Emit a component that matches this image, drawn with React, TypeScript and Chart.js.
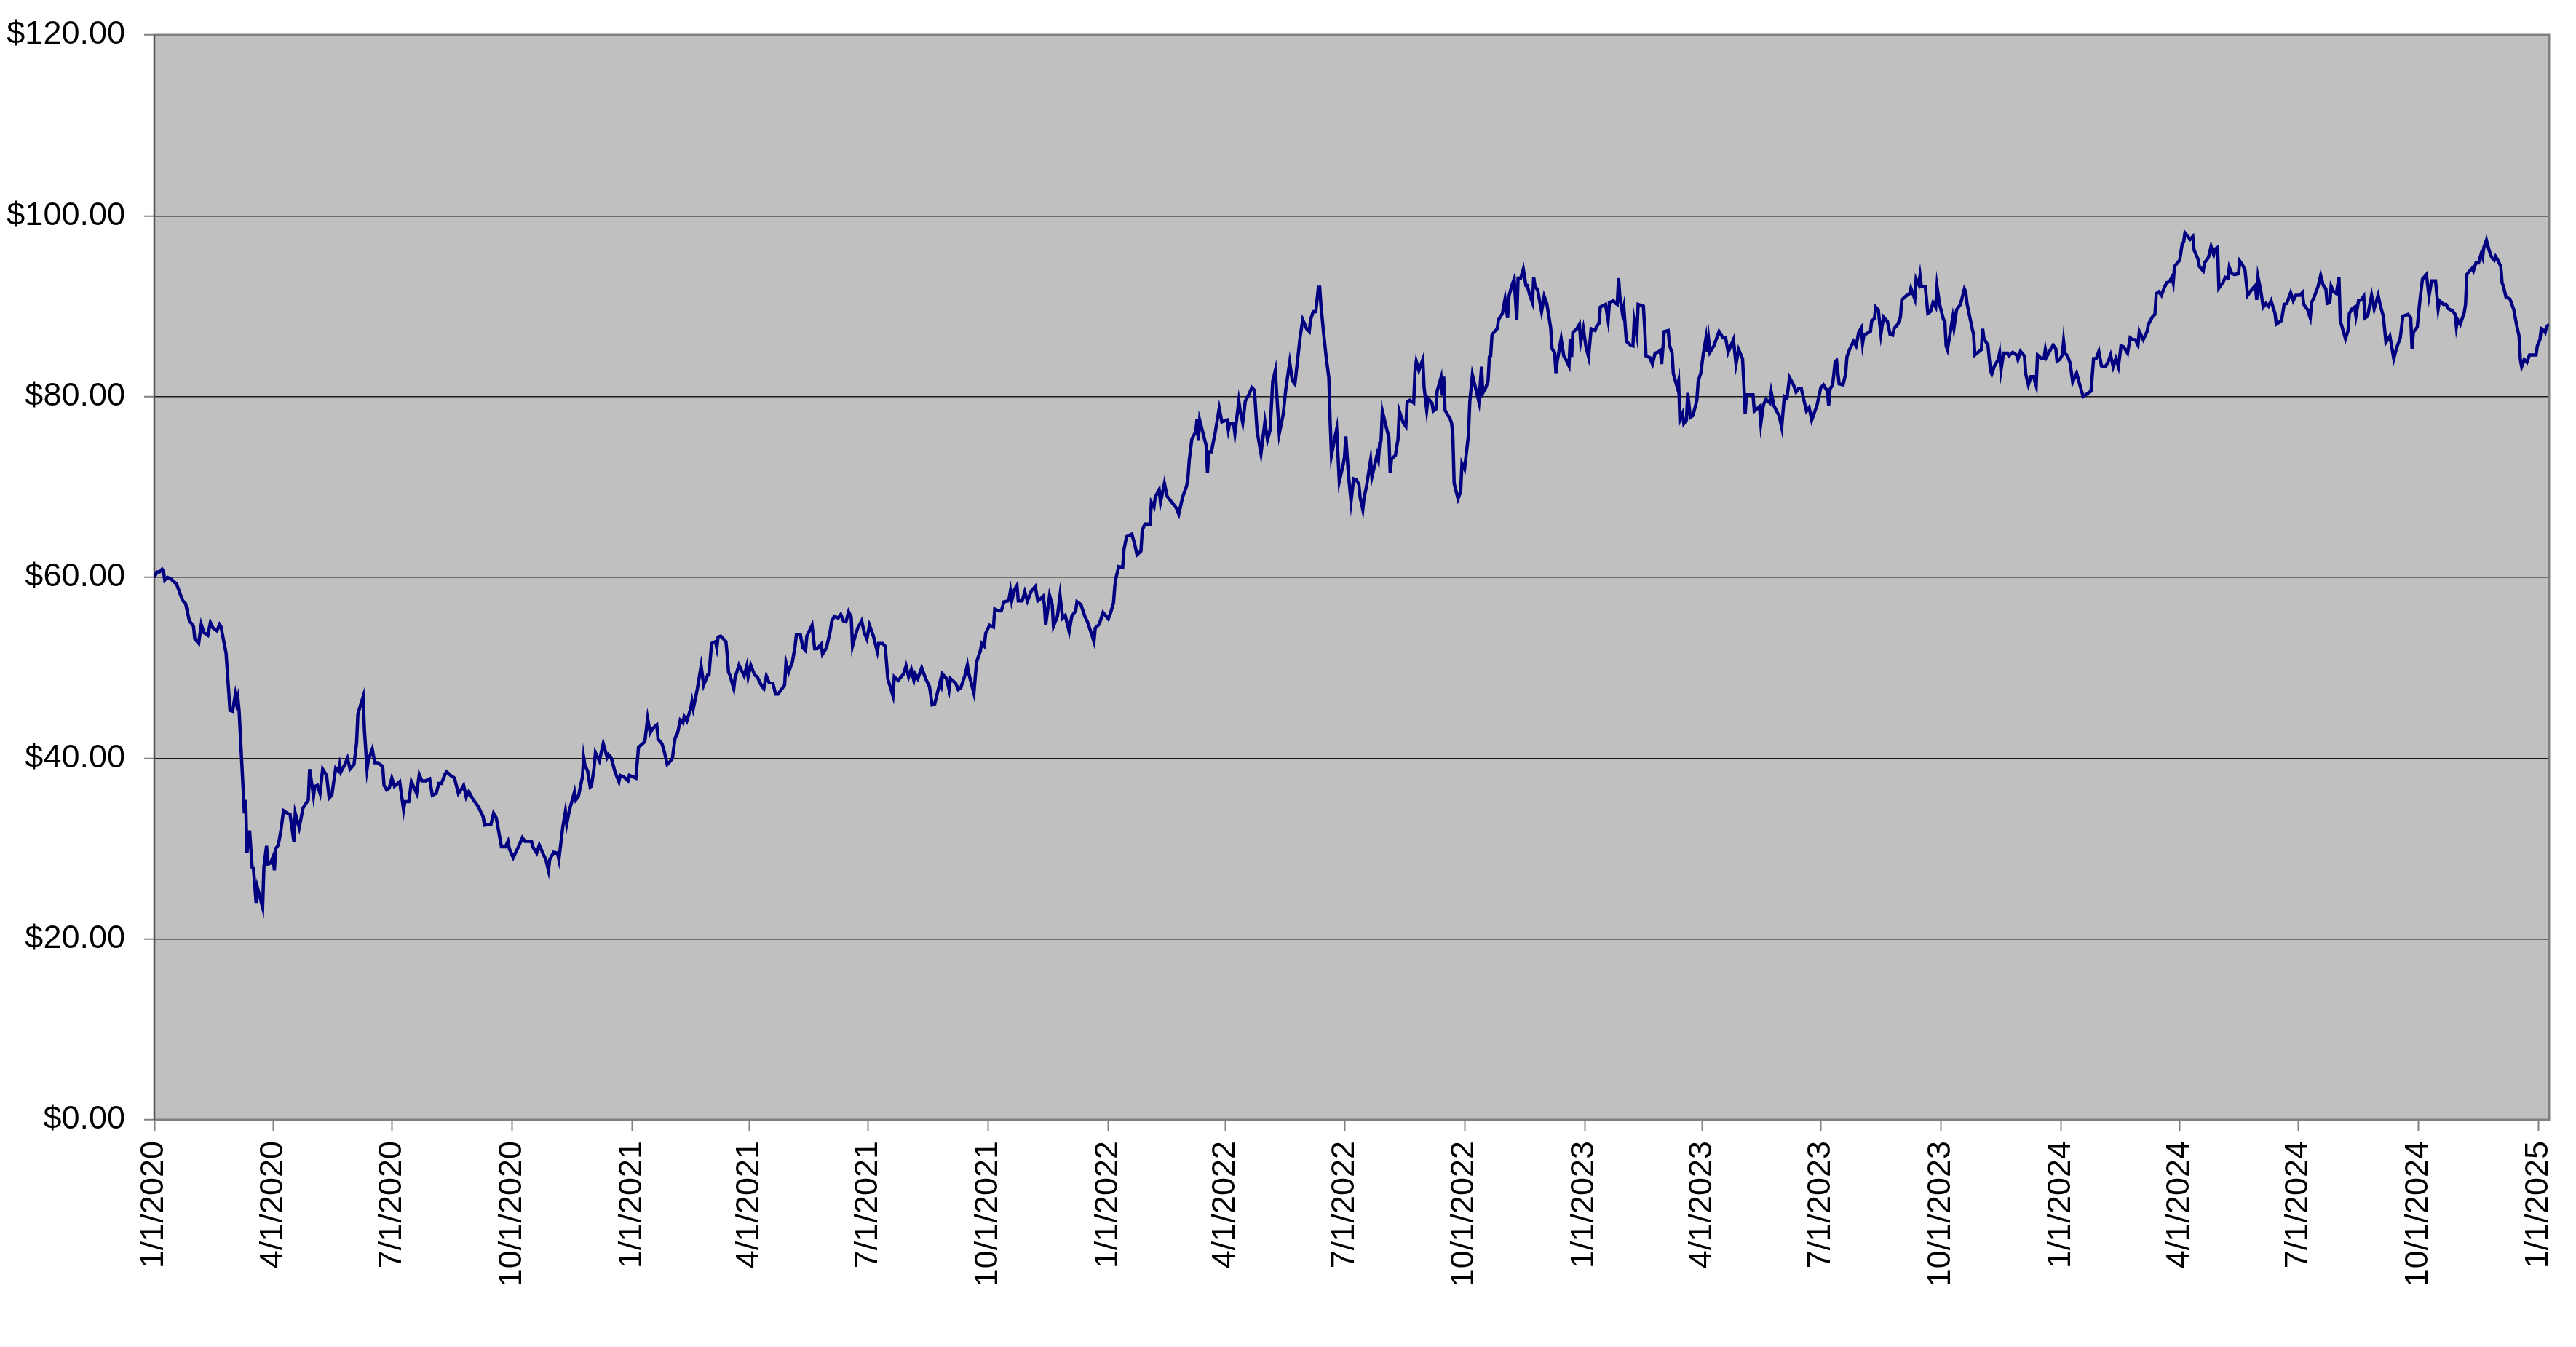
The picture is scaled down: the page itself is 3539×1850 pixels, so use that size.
import React, { useEffect, useRef } from 'react'
import { Chart, registerables } from 'chart.js'

Chart.register(...registerables)

// x values are days since 1/1/2020
const START = Date.UTC(2020, 0, 1)

const TICK_LABELS = [
  '1/1/2020', '4/1/2020', '7/1/2020', '10/1/2020',
  '1/1/2021', '4/1/2021', '7/1/2021', '10/1/2021',
  '1/1/2022', '4/1/2022', '7/1/2022', '10/1/2022',
  '1/1/2023', '4/1/2023', '7/1/2023', '10/1/2023',
  '1/1/2024', '4/1/2024', '7/1/2024', '10/1/2024',
  '1/1/2025',
]

const Y_MIN = 0
const Y_MAX = 120
const Y_STEP = 20

const DAYS = [
  0, 2, 4, 6, 7, 8, 10, 13, 15, 17,
  20, 22, 24, 27, 28, 30, 31, 34, 36, 38,
  41, 43, 45, 48, 50, 51, 55, 58, 60, 62,
  63, 64, 65, 69, 70, 71, 73, 75, 76, 78,
  79, 83, 84, 86, 87, 89, 91, 92, 93, 95,
  97, 99, 102, 104, 107, 108, 111, 114, 118, 119,
  122, 123, 125, 127, 129, 132, 134, 136, 139, 141,
  142, 143, 146, 148, 150, 153, 155, 156, 160, 161,
  163, 164, 167, 169, 171, 175, 176, 178, 180, 182,
  184, 188, 191, 192, 195, 197, 201, 203, 205, 208,
  211, 213, 216, 218, 220, 223, 224, 227, 230, 233,
  235, 237, 239, 241, 244, 248, 251, 252, 253, 258,
  260, 262, 264, 266, 269, 271, 272, 275, 277, 279,
  282, 284, 287, 289, 290, 293, 295, 298, 300, 302,
  303, 306, 309, 310, 313, 315, 316, 318, 322, 323,
  325, 328, 329, 330, 332, 334, 335, 337, 338, 341,
  344, 347, 348, 350, 353, 356, 357, 360, 363, 364,
  369, 371, 375, 376, 378, 380, 382, 385, 386, 389,
  391, 393, 395, 397, 399, 401, 403, 405, 406, 408,
  411, 412, 413, 416, 419, 421, 424, 425, 427, 430,
  431, 432, 434, 438, 439, 440, 441, 444, 445, 448,
  450, 452, 454, 455, 457, 460, 462, 465, 467, 469,
  471, 474, 476, 478, 481, 483, 484, 486, 489, 491,
  492, 495, 497, 499, 500, 504, 506, 508, 511, 512,
  515, 518, 519, 521, 524, 526, 528, 530, 532, 534,
  535, 537, 539, 542, 544, 546, 548, 551, 554, 555,
  558, 560, 561, 562, 566, 567, 570, 574, 576, 578,
  580, 582, 583, 585, 588, 589, 591, 594, 596, 598,
  602, 603, 604, 607, 609, 610, 614, 616, 618, 621,
  623, 624, 628, 630, 633, 634, 636, 637, 640, 643,
  644, 647, 649, 651, 654, 655, 656, 657, 659, 661,
  662, 665, 667, 669, 672, 675, 677, 678, 681, 682,
  683, 686, 688, 689, 692, 694, 696, 698, 701, 703,
  706, 707, 710, 713, 715, 718, 720, 721, 724, 727,
  731, 733, 735, 736, 737, 739, 742, 743, 745, 749,
  751, 753, 756, 757, 759, 763, 764, 766, 767, 770,
  771, 774, 776, 778, 783, 785, 788, 791, 792, 793,
  795, 798, 799, 800, 801, 806, 807, 808, 810, 813,
  816, 818, 822, 823, 824, 827, 828, 831, 832, 834,
  836, 839, 841, 843, 845, 848, 851, 853, 855, 857,
  859, 860, 862, 865, 867, 870, 872, 874, 876, 878,
  880, 883, 885, 886, 888, 890, 892, 893, 894, 896,
  898, 900, 901, 902, 904, 906, 908, 911, 912, 913,
  915, 917, 919, 921, 923, 924, 926, 927, 929, 932,
  933, 937, 938, 939, 940, 941, 944, 946, 947, 948,
  951, 953, 954, 957, 959, 960, 962, 965, 966, 967,
  969, 972, 973, 975, 976, 979, 980, 982, 983, 986,
  987, 988, 989, 993, 994, 995, 996, 999, 1001, 1002,
  1004, 1007, 1008, 1010, 1012, 1015, 1017, 1018, 1020, 1022,
  1023, 1024, 1025, 1027, 1029, 1030, 1033, 1035, 1037, 1038,
  1040, 1042, 1044, 1045, 1047, 1049, 1051, 1052, 1054, 1056,
  1057, 1058, 1060, 1063, 1065, 1067, 1070, 1071, 1073, 1074,
  1075, 1078, 1080, 1082, 1084, 1085, 1086, 1087, 1090, 1092,
  1093, 1095, 1097, 1099, 1101, 1104, 1105, 1107, 1108, 1112,
  1114, 1115, 1118, 1120, 1121, 1122, 1123, 1125, 1126, 1128,
  1131, 1133, 1134, 1136, 1137, 1141, 1142, 1143, 1146, 1148,
  1150, 1152, 1154, 1155, 1157, 1160, 1161, 1163, 1164, 1167,
  1168, 1169, 1171, 1172, 1174, 1175, 1177, 1179, 1182, 1183,
  1185, 1187, 1189, 1190, 1191, 1192, 1195, 1197, 1199, 1202,
  1204, 1206, 1210, 1212, 1214, 1217, 1218, 1219, 1220, 1225,
  1226, 1230, 1231, 1233, 1235, 1238, 1239, 1241, 1243, 1245,
  1247, 1249, 1251, 1253, 1256, 1258, 1260, 1262, 1264, 1266,
  1268, 1270, 1273, 1274, 1277, 1279, 1282, 1283, 1284, 1286,
  1288, 1289, 1291, 1294, 1296, 1297, 1299, 1302, 1304, 1306,
  1308, 1309, 1310, 1315, 1316, 1318, 1319, 1321, 1323, 1325,
  1328, 1330, 1332, 1333, 1336, 1338, 1339, 1342, 1345, 1346,
  1348, 1349, 1350, 1352, 1353, 1354, 1357, 1359, 1361, 1363,
  1365, 1366, 1368, 1371, 1372, 1373, 1374, 1378, 1379, 1381,
  1384, 1387, 1388, 1389, 1391, 1393, 1394, 1395, 1400, 1401,
  1402, 1405, 1407, 1408, 1410, 1413, 1414, 1415, 1417, 1420,
  1421, 1424, 1427, 1428, 1430, 1433, 1434, 1436, 1438, 1440,
  1442, 1443, 1446, 1448, 1449, 1450, 1453, 1455, 1457, 1458,
  1460, 1462, 1463, 1464, 1466, 1468, 1470, 1473, 1476, 1478,
  1480, 1484, 1486, 1488, 1490, 1492, 1495, 1497, 1499, 1501,
  1503, 1505, 1507, 1509, 1512, 1514, 1516, 1518, 1520, 1521,
  1524, 1527, 1528, 1531, 1533, 1534, 1536, 1538, 1540, 1542,
  1544, 1546, 1547, 1548, 1552, 1554, 1555, 1556, 1560, 1562,
  1563, 1566, 1567, 1570, 1571, 1574, 1576, 1578, 1579, 1581,
  1582, 1585, 1587, 1589, 1590, 1592, 1594, 1597, 1598, 1600,
  1602, 1604, 1607, 1610, 1611, 1612, 1614, 1616, 1618, 1620,
  1622, 1625, 1626, 1630, 1632, 1634, 1637, 1639, 1641, 1644,
  1646, 1647, 1650, 1652, 1653, 1655, 1658, 1660, 1662, 1664,
  1665, 1667, 1668, 1670, 1672, 1674, 1675, 1679, 1681, 1682,
  1684, 1686, 1687, 1689, 1691, 1693, 1694, 1696, 1699, 1701,
  1704, 1706, 1708, 1710, 1713, 1716, 1718, 1721, 1723, 1727,
  1729, 1730, 1731, 1734, 1736, 1738, 1741, 1743, 1745, 1748,
  1750, 1751, 1754, 1756, 1758, 1761, 1763, 1764, 1765, 1767,
  1770, 1771, 1772, 1774, 1776, 1777, 1779, 1781, 1783, 1784,
  1785, 1787, 1789, 1791, 1793, 1794, 1796, 1798, 1799, 1800,
  1802, 1805, 1806, 1808, 1810, 1812, 1813, 1814, 1816, 1818,
  1820, 1825, 1826, 1828, 1829, 1831, 1832, 1833, 1835,
]

const PRICES = [
  60.0, 60.6, 60.6, 60.9, 60.7, 59.7, 60.0, 59.8, 59.5, 59.3,
  58.1, 57.4, 57.1, 55.1, 55.0, 54.6, 53.2, 52.7, 54.8, 53.9,
  53.6, 55.0, 54.4, 54.1, 54.8, 54.6, 51.6, 45.3, 45.2, 47.0,
  46.1, 46.7, 45.2, 33.9, 35.4, 29.5, 32.0, 27.9, 27.8, 24.0,
  25.7, 23.5, 28.0, 30.3, 28.3, 28.4, 29.1, 27.6, 30.0, 30.4,
  32.0, 34.2, 33.9, 33.8, 30.7, 33.9, 32.3, 34.5, 35.4, 38.8,
  35.8, 36.9, 37.0, 36.1, 38.8, 38.1, 35.6, 35.9, 38.9, 38.6,
  39.3, 38.5, 39.3, 40.0, 38.8, 39.3, 41.7, 44.9, 46.8, 43.1,
  38.8, 39.8, 41.0, 39.5, 39.5, 39.1, 37.0, 36.5, 36.7, 37.8,
  36.9, 37.4, 34.3, 35.2, 35.2, 37.4, 36.1, 38.2, 37.5, 37.5,
  37.7, 35.9, 36.1, 37.2, 37.2, 38.3, 38.5, 38.1, 37.8, 36.1,
  36.5, 37.0, 35.7, 36.3, 35.5, 34.7, 33.8, 33.5, 32.6, 32.7,
  33.9, 33.4, 31.8, 30.2, 30.2, 30.8, 30.0, 29.0, 29.6, 30.2,
  31.2, 30.8, 30.8, 30.8, 30.2, 29.5, 30.4, 29.4, 28.8, 27.6,
  28.8, 29.6, 29.5, 28.8, 32.4, 34.1, 32.7, 34.2, 36.3, 35.4,
  35.8, 37.9, 40.1, 39.2, 38.6, 36.8, 36.9, 39.0, 40.6, 39.7,
  41.6, 40.1, 40.4, 40.1, 38.5, 37.4, 38.1, 37.9, 37.5, 38.1,
  37.8, 41.2, 41.7, 42.0, 44.4, 42.8, 43.3, 43.7, 42.1, 41.6,
  40.6, 39.3, 39.6, 40.0, 42.2, 42.8, 44.2, 43.9, 44.6, 44.1,
  45.5, 46.3, 45.5, 47.6, 50.2, 48.1, 49.2, 49.2, 52.7, 52.9,
  52.2, 53.4, 53.5, 52.9, 51.4, 49.5, 49.2, 47.7, 48.9, 50.3,
  49.7, 49.1, 50.2, 49.0, 50.3, 49.2, 49.0, 48.1, 47.7, 49.1,
  48.4, 48.3, 47.1, 47.1, 47.7, 48.1, 50.6, 49.5, 50.7, 52.4,
  53.7, 53.7, 52.2, 51.9, 53.5, 54.7, 52.1, 52.1, 52.6, 51.5,
  52.2, 54.1, 55.1, 55.7, 55.5, 55.9, 55.2, 55.1, 56.2, 55.6,
  52.4, 53.5, 54.4, 55.2, 53.9, 53.2, 54.7, 53.5, 51.8, 52.7,
  52.7, 52.4, 50.7, 48.8, 46.9, 49.0, 48.6, 49.3, 50.2, 49.0,
  49.8, 48.6, 49.3, 48.8, 50.0, 49.6, 48.8, 47.9, 45.9, 46.0,
  48.4, 48.0, 49.3, 48.8, 47.6, 48.8, 48.3, 47.6, 47.8, 49.1,
  50.3, 49.4, 47.2, 50.6, 51.9, 52.7, 52.4, 53.8, 54.7, 54.5,
  56.5, 56.3, 56.3, 57.3, 57.4, 57.7, 58.5, 57.4, 58.6, 59.1,
  57.4, 57.4, 58.4, 57.4, 58.5, 59.0, 57.4, 57.5, 57.9, 57.0,
  54.7, 58.0, 57.0, 54.6, 55.7, 58.0, 55.5, 55.8, 54.0, 55.7,
  56.3, 57.3, 57.0, 55.7, 55.1, 53.8, 52.9, 54.4, 54.8, 56.1,
  55.4, 56.2, 57.2, 59.1, 60.0, 61.2, 61.1, 63.1, 64.5, 64.8,
  63.8, 62.5, 62.9, 65.2, 65.9, 65.9, 68.3, 67.8, 68.9, 69.7,
  68.3, 70.4, 69.0, 68.6, 67.7, 67.0, 68.9, 70.1, 70.9, 72.9,
  75.3, 76.1, 77.5, 75.2, 77.4, 74.6, 71.6, 73.9, 73.9, 76.1,
  78.7, 77.2, 77.4, 76.3, 77.0, 77.0, 75.9, 79.5, 78.5, 77.1,
  79.5, 80.3, 81.0, 80.7, 76.2, 73.7, 77.2, 75.2, 76.3, 81.7,
  82.9, 80.4, 75.9, 78.0, 80.8, 83.8, 81.8, 81.4, 84.0, 86.6,
  88.5, 87.5, 87.2, 88.5, 89.4, 89.4, 92.1, 92.1, 90.0, 87.0,
  84.3, 82.1, 77.2, 73.5, 75.0, 76.4, 70.6, 72.5, 73.3, 75.6,
  71.4, 68.4, 70.9, 70.8, 70.3, 68.8, 67.5, 68.8, 70.2, 73.0,
  71.1, 73.6, 73.0, 74.9, 75.1, 78.4, 76.6, 75.5, 71.6, 73.1,
  73.5, 75.3, 78.4, 77.1, 76.7, 79.4, 79.6, 79.3, 82.8, 83.9,
  82.9, 84.1, 81.0, 78.5, 79.8, 79.3, 78.4, 78.6, 80.6, 82.1,
  80.1, 82.2, 78.5, 77.5, 77.1, 75.8, 70.4, 68.7, 69.5, 72.6,
  72.0, 75.8, 79.4, 82.4, 81.2, 79.4, 83.3, 80.4, 80.9, 81.7,
  84.4, 84.5, 86.8, 87.2, 87.5, 88.5, 89.2, 90.8, 88.7, 91.1,
  92.2, 93.0, 88.5, 93.1, 93.1, 94.1, 92.3, 92.3, 91.2, 90.4,
  93.2, 92.2, 91.8, 89.4, 91.1, 90.3, 87.6, 85.3, 84.9, 82.6,
  83.9, 86.4, 84.5, 84.0, 83.4, 86.4, 84.4, 87.1, 87.5, 88.0,
  86.0, 87.5, 85.5, 84.4, 87.5, 87.3, 87.7, 88.1, 89.9, 90.2,
  88.4, 90.4, 90.6, 90.3, 90.2, 93.1, 91.1, 89.2, 89.9, 86.1,
  85.7, 85.6, 88.4, 86.8, 90.2, 90.0, 87.6, 84.5, 84.3, 83.6,
  84.8, 84.9, 85.1, 83.6, 87.2, 87.3, 85.7, 84.8, 82.5, 81.0,
  81.7, 77.4, 78.1, 77.0, 77.4, 80.4, 77.7, 77.9, 79.6, 81.7,
  82.6, 84.8, 86.5, 84.9, 86.3, 84.9, 85.6, 86.4, 87.2, 86.5,
  86.5, 84.9, 86.3, 83.6, 85.2, 84.2, 81.4, 78.1, 80.2, 80.2,
  78.4, 78.9, 77.0, 79.1, 79.7, 79.3, 80.5, 79.0, 78.4, 77.9,
  76.6, 80.0, 79.8, 82.1, 81.3, 80.5, 80.9, 80.9, 79.6, 78.4,
  78.8, 77.4, 78.6, 79.0, 81.0, 81.3, 80.6, 79.0, 80.8, 81.3,
  83.9, 84.0, 81.4, 81.3, 82.5, 84.4, 85.2, 86.1, 85.6, 87.1,
  87.6, 85.9, 86.8, 87.2, 88.4, 88.6, 89.9, 89.6, 86.9, 88.8,
  88.3, 86.9, 86.8, 87.5, 88.0, 88.8, 90.7, 91.1, 91.4, 92.0,
  91.2, 90.8, 93.0, 92.4, 93.4, 92.2, 92.2, 89.2, 89.4, 90.4,
  89.9, 92.2, 90.2, 88.5, 88.4, 85.6, 85.2, 88.7, 87.6, 89.6,
  90.2, 91.9, 91.6, 90.3, 88.9, 87.5, 86.9, 84.6, 85.2, 87.5,
  86.4, 85.7, 82.9, 82.5, 83.4, 84.1, 84.8, 82.9, 84.8, 84.8,
  84.5, 84.9, 84.6, 84.1, 85.0, 84.5, 82.5, 81.3, 82.2, 82.2,
  81.2, 84.6, 84.2, 84.2, 85.2, 84.4, 85.2, 85.7, 85.3, 83.9,
  84.1, 84.6, 86.1, 84.8, 84.5, 83.7, 81.6, 82.6, 81.0, 80.0,
  80.2, 80.6, 84.2, 84.2, 85.0, 83.4, 83.3, 83.8, 84.6, 83.3,
  84.2, 83.3, 85.6, 85.5, 84.8, 86.5, 86.3, 86.3, 85.7, 87.2,
  86.3, 87.2, 88.0, 88.8, 89.1, 91.4, 91.6, 91.2, 92.0, 92.6,
  92.7, 93.2, 92.6, 94.4, 95.1, 97.0, 97.1, 98.1, 97.4, 97.7,
  96.2, 95.2, 94.4, 93.9, 94.8, 95.4, 96.6, 95.7, 96.3, 96.5,
  92.0, 92.6, 93.2, 93.1, 94.3, 93.6, 93.5, 93.6, 95.0, 94.6,
  94.0, 91.2, 91.8, 92.3, 90.7, 93.2, 91.8, 89.9, 90.3, 90.0,
  90.6, 89.2, 88.0, 88.4, 90.2, 90.3, 91.5, 90.6, 91.2, 91.2,
  91.5, 90.2, 89.6, 88.7, 90.4, 91.0, 92.2, 93.4, 92.3, 91.9,
  90.3, 90.4, 92.2, 91.6, 91.4, 93.2, 88.4, 86.4, 87.3, 89.2,
  89.7, 89.9, 88.9, 90.6, 90.7, 91.1, 88.7, 88.9, 91.2, 89.7,
  91.2, 89.9, 88.9, 86.0, 86.7, 84.2, 85.3, 86.5, 88.9, 89.1,
  88.7, 85.3, 87.1, 87.7, 90.6, 93.0, 93.5, 91.1, 92.8, 92.8,
  89.7, 90.6, 90.2, 90.2, 89.7, 89.5, 89.1, 87.7, 88.5, 88.0,
  89.3, 90.2, 93.5, 93.9, 94.2, 93.9, 94.8, 94.8, 95.8, 95.4,
  96.5, 97.3, 96.2, 95.4, 95.1, 95.5, 95.0, 94.4, 92.6, 92.2,
  91.0, 90.8, 90.4, 89.6, 88.0, 86.7, 84.1, 83.3, 84.1, 83.8,
  84.6, 84.6, 85.6, 86.3, 87.5, 87.3, 87.1, 87.7, 88.0,
]

function dayOf(label: string) {
  const [m, d, y] = label.split('/').map(Number)
  return Math.round((Date.UTC(y, m - 1, d) - START) / 86400000)
}

const TICK_DAYS = TICK_LABELS.map(dayOf)
const FONT = { family: '"Liberation Sans", Arial, sans-serif', size: 45 }

// labels may hang over the plot edges, the layout padding leaves room for them
function noLabelPadding(scale: any) {
  scale.paddingTop = 0
  scale.paddingBottom = 0
  scale.paddingLeft = 0
  scale.paddingRight = 0
}

// grey plot area behind the grid, frame drawn before the line
const plotFrame = {
  id: 'plotFrame',
  beforeDraw(chart: any) {
    const { ctx, chartArea: { left, top, width, height } } = chart
    ctx.save()
    ctx.fillStyle = '#C0C0C0'
    ctx.fillRect(left, top, width, height)
    ctx.restore()
  },
  beforeDatasetsDraw(chart: any) {
    const { ctx, chartArea: { left, top, right, bottom } } = chart
    ctx.save()
    ctx.lineWidth = 3
    ctx.strokeStyle = '#808080'
    ctx.beginPath()
    ctx.moveTo(left, top)
    ctx.lineTo(right, top)
    ctx.lineTo(right, bottom)
    ctx.lineTo(left, bottom)
    ctx.stroke()
    ctx.strokeStyle = '#505050'
    ctx.lineWidth = 2.5
    ctx.beginPath()
    ctx.moveTo(left, top)
    ctx.lineTo(left, bottom)
    ctx.stroke()
    ctx.restore()
  },
}

export default function App() {
  const canvasRef = useRef<HTMLCanvasElement>(null)

  useEffect(() => {
    if (!canvasRef.current) return
    const n = Math.min(DAYS.length, PRICES.length)
    const points = DAYS.slice(0, n).map((x, i) => ({ x, y: PRICES[i] }))

    const chart = new Chart(canvasRef.current, {
      type: 'line',
      data: {
        datasets: [{
          data: points,
          borderColor: '#000080',
          borderWidth: 4.5,
          pointRadius: 0,
          tension: 0,
          fill: false,
        }],
      },
      options: {
        responsive: true,
        maintainAspectRatio: false,
        animation: false,
        devicePixelRatio: 1,
        layout: { padding: { top: 40, right: 29, left: 0, bottom: 0 } },
        plugins: { legend: { display: false }, tooltip: { enabled: false } },
        scales: {
          x: {
            type: 'linear',
            min: 0,
            max: DAYS[n - 1],
            afterBuildTicks: (scale: any) => { scale.ticks = TICK_DAYS.map((value) => ({ value })) },
            afterFit: (scale: any) => { scale.height = 304; noLabelPadding(scale) },
            border: { display: false },
            grid: { drawOnChartArea: false, drawTicks: true, tickLength: 15, tickColor: '#808080', tickWidth: 2 },
            ticks: {
              autoSkip: false,
              minRotation: 90,
              maxRotation: 90,
              padding: 14,
              color: '#000',
              font: FONT,
              callback: (value: any) => TICK_LABELS[TICK_DAYS.indexOf(Number(value))] ?? '',
            },
          },
          y: {
            min: Y_MIN,
            max: Y_MAX,
            afterFit: (scale: any) => { scale.width = 204; noLabelPadding(scale) },
            border: { display: false },
            grid: {
              color: (ctx: any) => (ctx.tick && (ctx.tick.value === Y_MIN || ctx.tick.value === Y_MAX) ? 'rgba(0,0,0,0)' : '#1a1a1a'),
              lineWidth: 1.5,
              tickLength: 14,
              tickColor: '#808080',
              tickWidth: 2,
            },
            ticks: {
              stepSize: Y_STEP,
              padding: 26,
              color: '#000',
              font: FONT,
              callback: (value: any) => '$' + Number(value).toFixed(2),
            },
          },
        },
      },
      plugins: [plotFrame],
    })

    return () => chart.destroy()
  }, [])

  return (
    <div style={{ width: 3523, height: 1834, position: 'relative' }}>
      <canvas ref={canvasRef} />
    </div>
  )
}
